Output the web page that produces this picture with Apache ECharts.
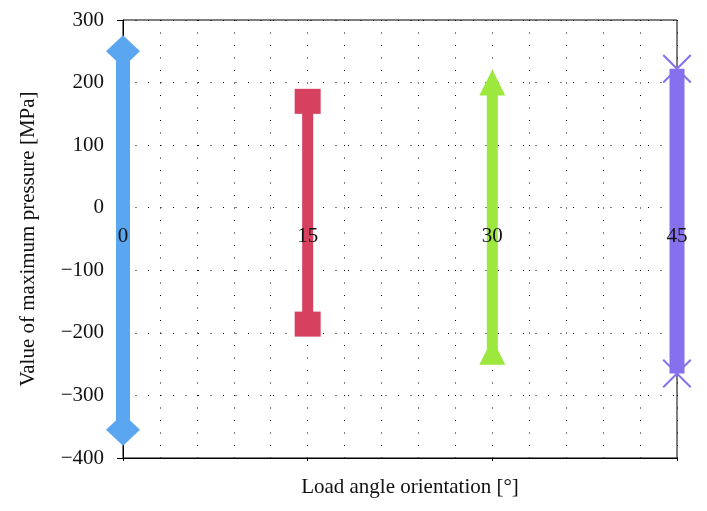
<!DOCTYPE html>
<html>
<head>
<meta charset="utf-8">
<script src="https://cdn.jsdelivr.net/npm/echarts@6/dist/echarts.min.js"></script>
<style>html,body{margin:0;padding:0;background:#fff}#c{width:707px;height:511px}</style>
</head>
<body>
<div id="c"></div>
<script>
// ---- data ----
const categories = [0, 15, 30, 45];
const highValues = [250, 170, 200, 222];
const lowValues = [-355, -186, -230, -265];
const yMin = -400, yMax = 300, yStep = 100;
const xMin = 0, xMax = 45, xGridStep = 3;
const xName = 'Load angle orientation [°]';
const yName = 'Value of maximum pressure [MPa]';

// ---- styles ----
const seriesColors = ['#5AA6F0', '#D5415F', '#9DE83E', '#8770EE'];
const lineWidths = [14, 11, 11, 15];
const xPath = 'path://M0,5L5,0L50,45L95,0L100,5L55,50L100,95L95,100L50,55L5,100L0,95L45,50Z';
const symbols = ['diamond', 'rect', 'triangle', xPath];
const symbolSizes = [[34, 32], [26, 25], [26, 26], [29, 29]];
const FONT = '"Liberation Serif", "DejaVu Serif", serif';
const dotted = { color: '#000', width: 1, type: [1, 11.5] };

const chart = echarts.init(document.getElementById('c'));
const series = categories.map((c, i) => ({
  type: 'line',
  data: [[c, highValues[i]], [c, lowValues[i]]],
  symbol: symbols[i],
  symbolSize: symbolSizes[i],
  showSymbol: true,
  lineStyle: { color: seriesColors[i], width: lineWidths[i], cap: 'butt' },
  itemStyle: { color: seriesColors[i], opacity: 1 },
  z: 3,
  clip: false
}));

chart.setOption({
  animation: false,
  grid: { left: 123, right: 30, top: 20, bottom: 53, show: true, borderColor: '#000', borderWidth: 1 },
  xAxis: [{
    type: 'value', min: xMin, max: xMax, interval: xGridStep,
    name: xName, nameLocation: 'middle', nameGap: 19,
    nameTextStyle: { fontFamily: FONT, fontSize: 21, color: '#111', padding: [0, 0, 0, 20] },
    axisLine: { show: true, onZero: false, lineStyle: { color: '#000', width: 1 } },
    axisTick: { show: false },
    axisLabel: { show: false },
    splitLine: { show: true, lineStyle: dotted }
  }, {
    type: 'value', min: xMin, max: xMax, interval: xGridStep,
    position: 'bottom', offset: 0,
    axisLine: { show: false, onZero: false }, splitLine: { show: false },
    axisTick: { show: true, customValues: categories, length: 3, lineStyle: { color: '#000' } },
    axisLabel: { show: false }
  }, {
    type: 'value', min: xMin, max: xMax, interval: xGridStep,
    position: 'bottom', offset: -240, z: 10,
    axisLine: { show: false, onZero: false }, axisTick: { show: false }, splitLine: { show: false },
    axisLabel: { show: true, customValues: categories, margin: 8,
      fontFamily: FONT, fontSize: 21, color: '#111' }
  }],
  yAxis: {
    type: 'value', min: yMin, max: yMax, interval: yStep,
    name: yName, nameLocation: 'middle', nameGap: 84,
    nameTextStyle: { fontFamily: FONT, fontSize: 21, color: '#111' },
    axisLine: { show: true, onZero: false, lineStyle: { color: '#000', width: 1 } },
    axisTick: { show: true, length: 6, lineStyle: { color: '#000' } },
    axisLabel: { margin: 19, fontFamily: FONT, fontSize: 21, color: '#111',
      formatter: v => String(v).replace('-', '\u2212') },
    splitLine: { show: true, lineStyle: dotted }
  },
  series: series
});
</script>
</body>
</html>
